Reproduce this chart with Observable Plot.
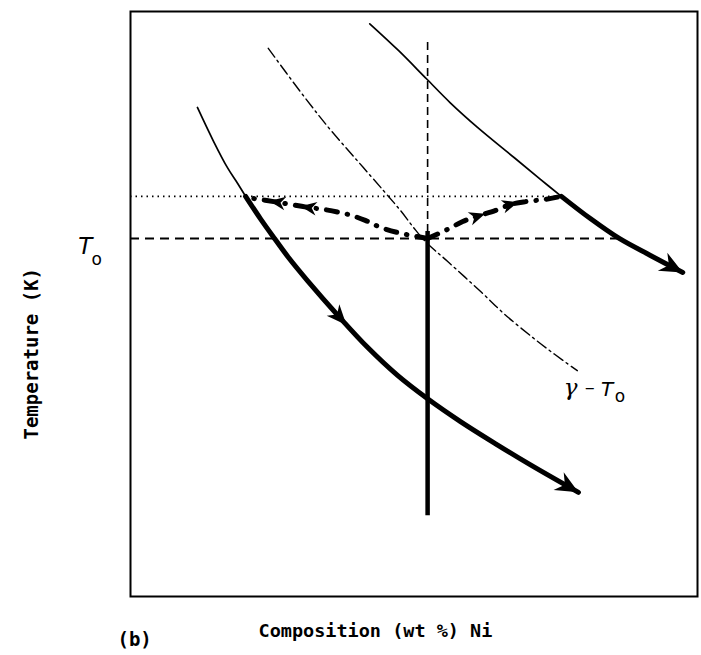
<!DOCTYPE html>
<html><head><meta charset="utf-8">
<script src="https://cdn.jsdelivr.net/npm/d3@7"></script>
<script src="https://cdn.jsdelivr.net/npm/@observablehq/plot@0.6"></script>
<style>body{margin:0;background:#fff}svg{display:block}</style>
</head><body><div id="chart"></div>
<script>
// Schematic units: composition 0–100 (x), temperature 0–100 (y)
const compC0 = 52.4;          // alloy composition (vertical line)
const tempT0 = 61.2;          // T0 temperature (dashed horizontal)
const tempDotted = 68.4;      // dotted horizontal level
const dottedEnd = 76.0;
const dashedEnd = 86.2;
const verticalDashed = [94.7, 61.2];
const verticalSolid = [62.4, 13.8];

const curveAThin = [[11.8,83.6],[14.6,77.9],[17.1,73.3],[18.9,70.6],[20.3,68.4]];
const curveAThick = [[20.3,68.4],[22.9,64.6],[25.4,61.2],[27.9,57.9],[31.2,54.0],[36.9,47.7],[41.8,42.6],[47.1,37.8],[52.4,33.8],[58.2,29.9],[64.4,26.1],[70.7,22.4],[79.0,17.8]];
const curveGammaT0 = [[24.3,93.7],[29.8,86.5],[34.9,80.2],[40.0,74.5],[44.6,69.4],[47.6,66.0],[49.9,63.1],[52.0,60.7],[55.9,57.3],[61.9,52.0],[65.8,48.4],[70.9,44.3],[74.8,41.4],[78.8,38.6]];
const curveCThin = [[42.2,97.9],[47.3,93.3],[52.2,88.5],[56.4,84.4],[61.2,80.2],[67.7,75.0],[72.3,71.3],[76.0,68.4]];
const curveCThick = [[76.0,68.4],[81.1,64.6],[86.2,61.2],[91.7,58.3],[97.4,55.4]];
const branchLeft = [[52.4,61.2],[47.6,62.1],[44.1,63.1],[41.4,64.3],[38.4,65.3],[33.9,66.2],[31.4,66.5],[25.9,67.4],[20.6,68.2]];
const branchRight = [[52.4,61.2],[55.6,62.6],[58.6,64.1],[61.2,65.0],[64.4,66.0],[67.0,67.0],[69.7,67.5],[73.2,67.9],[76.0,68.4]];

// arrowheads: which series, which point, kind
const arrowSpecs = [
  {series: "A", at: 5, kind: "mid"},
  {series: "A", at: 12, kind: "tip"},
  {series: "C", at: 4, kind: "tip"},
  {series: "L", at: 6, kind: "small"},
  {series: "L", at: 7, kind: "small"},
  {series: "R", at: 3, kind: "small"},
  {series: "R", at: 5, kind: "small"}
];

const yLabel = ["Temperature (K)"];
const xLabel = ["Composition (wt %) Ni"];
const panelLabel = ["(b)"];

const W = 701, H = 655;
const M = {top: 11, right: 4, bottom: 59, left: 130};
const xDomain = [0, 100], yDomain = [0, 100];

const pts = a => a.map(([x, y]) => ({x, y}));
const seriesMap = {A: curveAThick, C: curveCThick, L: branchLeft, R: branchRight};

const sx = Plot.scale({x: {domain: xDomain, range: [M.left, W - M.right]}});
const sy = Plot.scale({y: {domain: yDomain, range: [H - M.bottom, M.top]}});

const arrows = arrowSpecs.map(s => {
  const arr = seriesMap[s.series];
  const i = s.at;
  const p0 = arr[Math.max(0, i - 1)], p1 = arr[Math.min(arr.length - 1, i + 1)];
  const dx = sx.apply(p1[0]) - sx.apply(p0[0]);
  const dy = sy.apply(p1[1]) - sy.apply(p0[1]);
  return {x: arr[i][0], y: arr[i][1], rotate: Math.atan2(dx, -dy) * 180 / Math.PI, kind: s.kind};
});

const headCentered = {
  draw(ctx, size) {
    const s = Math.sqrt(size / Math.PI);
    ctx.moveTo(0, -s);
    ctx.lineTo(0.85 * s, s);
    ctx.lineTo(0, 0.4 * s);
    ctx.lineTo(-0.85 * s, s);
    ctx.closePath();
  }
};
const headTip = {
  draw(ctx, size) {
    const s = Math.sqrt(size / Math.PI);
    ctx.moveTo(0, 0);
    ctx.lineTo(0.85 * s, 1.9 * s);
    ctx.lineTo(0, 1.3 * s);
    ctx.lineTo(-0.85 * s, 1.9 * s);
    ctx.closePath();
  }
};

const mono = "'DejaVu Sans Mono', monospace";
const lineOpts = {x: "x", y: "y", curve: "catmull-rom", stroke: "#000"};

const chart = Plot.plot({
  width: W, height: H,
  marginTop: M.top, marginRight: M.right, marginBottom: M.bottom, marginLeft: M.left,
  x: {domain: xDomain, axis: null},
  y: {domain: yDomain, axis: null},
  style: {background: "#fff", color: "#000"},
  marks: [
    Plot.frame({stroke: "#000", strokeWidth: 2}),
    Plot.ruleY([tempDotted], {x1: 0, x2: dottedEnd, stroke: "#000", strokeWidth: 1.6, strokeDasharray: "1.5,4"}),
    Plot.ruleY([tempT0], {x1: 0, x2: dashedEnd, stroke: "#000", strokeWidth: 2.2, strokeDasharray: "9,6"}),
    Plot.ruleX([compC0], {y1: verticalDashed[0], y2: verticalDashed[1], stroke: "#000", strokeWidth: 1.6, strokeDasharray: "8,5"}),
    Plot.ruleX([compC0], {y1: verticalSolid[0], y2: verticalSolid[1], stroke: "#000", strokeWidth: 4.5}),
    Plot.line(pts(curveGammaT0), {...lineOpts, strokeWidth: 1.4, strokeDasharray: "11,4,2,4"}),
    Plot.line(pts(curveAThin), {...lineOpts, strokeWidth: 1.7}),
    Plot.line(pts(curveAThick), {...lineOpts, strokeWidth: 5}),
    Plot.line(pts(curveCThin), {...lineOpts, strokeWidth: 1.7}),
    Plot.line(pts(curveCThick), {...lineOpts, strokeWidth: 5}),
    Plot.line(pts(branchLeft), {...lineOpts, strokeWidth: 5, strokeDasharray: "11,10,0.5,10", strokeLinecap: "round"}),
    Plot.line(pts(branchRight), {...lineOpts, strokeWidth: 5, strokeDasharray: "11,10,0.5,10", strokeLinecap: "round"}),
    Plot.dot(arrows.filter(d => d.kind === "tip"), {x: "x", y: "y", rotate: "rotate", symbol: headTip, r: 12, fill: "#000", stroke: "none"}),
    Plot.dot(arrows.filter(d => d.kind === "mid"), {x: "x", y: "y", rotate: "rotate", symbol: headCentered, r: 10, fill: "#000", stroke: "none"}),
    Plot.dot(arrows.filter(d => d.kind === "small"), {x: "x", y: "y", rotate: "rotate", symbol: headCentered, r: 8, fill: "#000", stroke: "none"}),
    Plot.text(yLabel, {text: d => d, x: -17.4, y: 41.5, rotate: -90, fontSize: 19, fontWeight: 600, fontFamily: mono, fill: "#000"}),
    Plot.text(xLabel, {text: d => d, x: 43.2, y: -7.0, lineAnchor: "bottom", fontSize: 18.5, fontWeight: 600, fontFamily: mono, fill: "#000"}),
    Plot.text(panelLabel, {text: d => d, x: -2.3, y: -8.5, lineAnchor: "bottom", textAnchor: "start", fontSize: 19, fontWeight: 600, fontFamily: mono, fill: "#000"}),
    Plot.text(["T"], {text: d => d, x: -9.2, y: 58.5, lineAnchor: "bottom", textAnchor: "start", fontSize: 23, fontStyle: "italic", fontFamily: "'DejaVu Sans', sans-serif", fill: "#000"}),
    Plot.text(["o"], {text: d => d, x: -6.9, y: 56.7, lineAnchor: "bottom", textAnchor: "start", fontSize: 17, fontFamily: "'DejaVu Sans', sans-serif", fill: "#000"}),
    Plot.text(["γ"], {text: d => d, x: 76.4, y: 34.4, lineAnchor: "bottom", textAnchor: "start", fontSize: 23, fontStyle: "italic", fontFamily: "'DejaVu Serif', serif", fill: "#000"}),
    Plot.text(["–"], {text: d => d, x: 80.1, y: 34.6, lineAnchor: "bottom", textAnchor: "start", fontSize: 20, fontFamily: "'DejaVu Sans', sans-serif", fill: "#000"}),
    Plot.text(["T"], {text: d => d, x: 83.0, y: 34.2, lineAnchor: "bottom", textAnchor: "start", fontSize: 20, fontStyle: "italic", fontFamily: "'DejaVu Sans', sans-serif", fill: "#000"}),
    Plot.text(["o"], {text: d => d, x: 85.4, y: 33.3, lineAnchor: "bottom", textAnchor: "start", fontSize: 17, fontFamily: "'DejaVu Sans', sans-serif", fill: "#000"})
  ]
});
document.getElementById("chart").appendChild(chart);
</script>
</body></html>
